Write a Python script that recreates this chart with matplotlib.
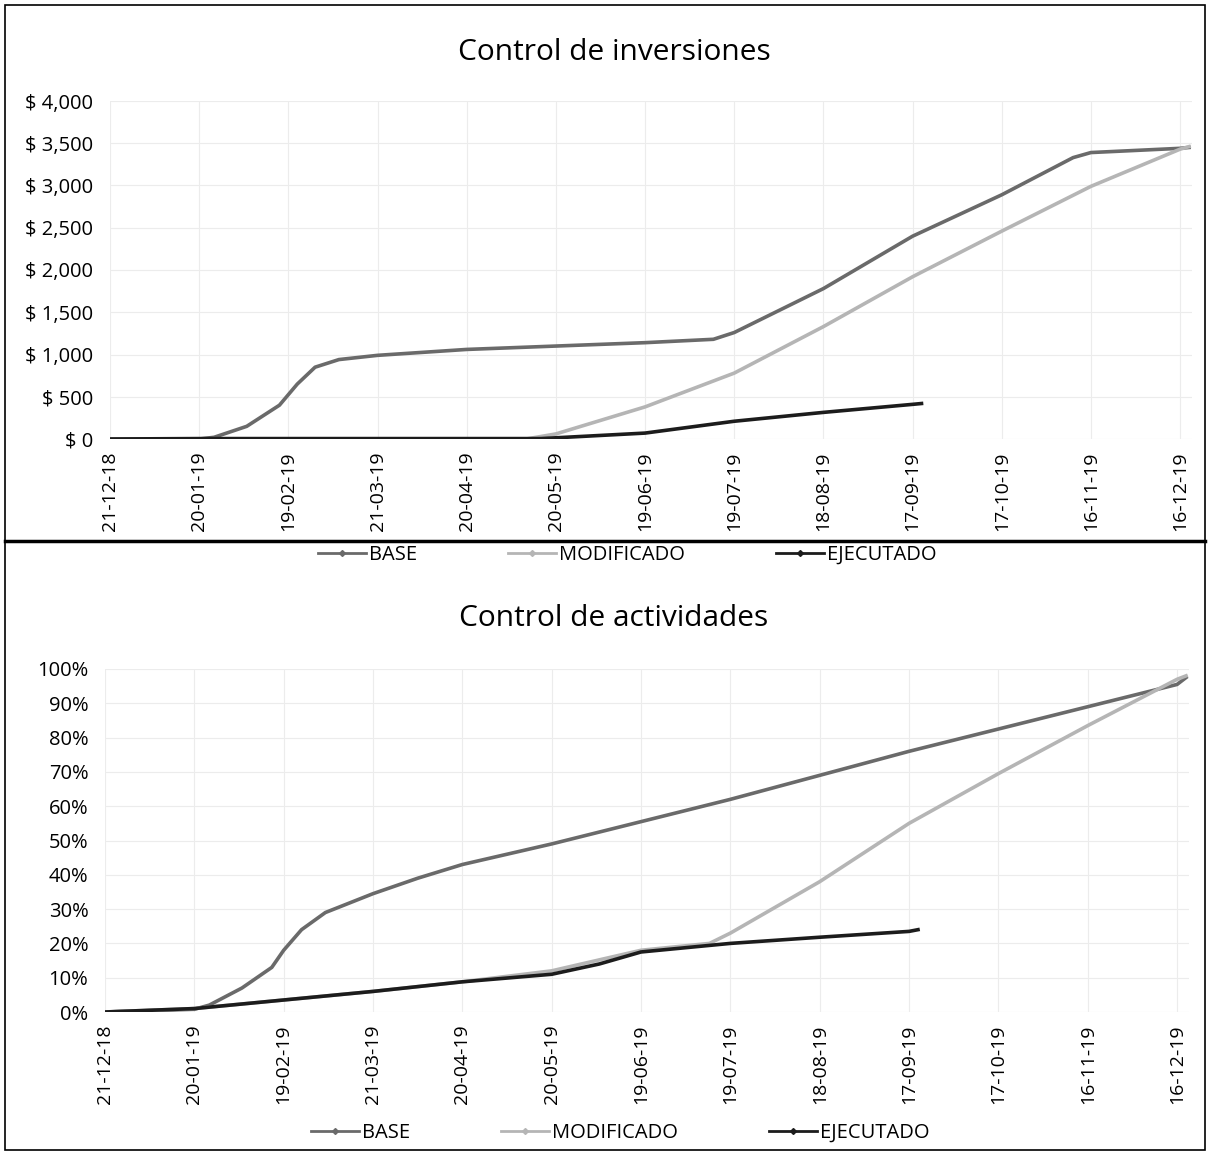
import matplotlib
matplotlib.use("Agg")
import matplotlib.pyplot as plt
import matplotlib.dates as mdates
from matplotlib.lines import Line2D
from matplotlib.patches import Rectangle
import pandas as pd

plt.rcParams['font.family'] = ['Open Sans', 'DejaVu Sans']

# ---- data ----
# Control de inversiones ($)
inv_base_dates = ["21-12-18", "20-01-19", "25-01-19", "05-02-19", "16-02-19", "22-02-19",
                  "28-02-19", "08-03-19", "21-03-19", "20-04-19", "20-05-19", "19-06-19",
                  "12-07-19", "19-07-19", "18-08-19", "17-09-19", "17-10-19", "10-11-19",
                  "16-11-19", "16-12-19", "19-12-19"]
inv_base = [0, 0, 20, 150, 400, 650, 850, 940, 990, 1060, 1100, 1140,
            1180, 1260, 1780, 2400, 2890, 3330, 3390, 3440, 3450]

inv_mod_dates = ["21-12-18", "10-05-19", "20-05-19", "19-06-19", "19-07-19", "18-08-19",
                 "17-09-19", "17-10-19", "16-11-19", "16-12-19", "19-12-19"]
inv_mod = [0, 0, 60, 380, 780, 1330, 1920, 2460, 2990, 3430, 3460]

inv_eje_dates = ["21-12-18", "20-01-19", "20-04-19", "15-05-19", "19-06-19", "19-07-19",
                 "18-08-19", "17-09-19", "20-09-19"]
inv_eje = [0, 5, 5, 5, 70, 210, 315, 410, 420]

# Control de actividades (%)
act_base_dates = ["21-12-18", "20-01-19", "25-01-19", "05-02-19", "15-02-19", "19-02-19",
                  "25-02-19", "05-03-19", "21-03-19", "05-04-19", "20-04-19", "20-05-19",
                  "19-06-19", "19-07-19", "18-08-19", "17-09-19", "17-10-19", "16-11-19",
                  "16-12-19", "19-12-19"]
act_base = [0, 0.8, 2, 7, 13, 18, 24, 29, 34.5, 39, 43, 49,
            55.5, 62, 69, 76, 82.5, 89, 95.5, 97.5]

act_mod_dates = ["21-12-18", "20-01-19", "19-02-19", "21-03-19", "20-04-19", "20-05-19",
                 "19-06-19", "12-07-19", "19-07-19", "18-08-19", "17-09-19", "17-10-19",
                 "16-11-19", "16-12-19", "19-12-19"]
act_mod = [0, 1, 3.5, 6, 8.8, 12, 18, 20, 23, 38, 55, 69.5, 83.5, 97, 98]

act_eje_dates = ["21-12-18", "20-01-19", "19-02-19", "21-03-19", "20-04-19", "20-05-19",
                 "05-06-19", "19-06-19", "19-07-19", "18-08-19", "17-09-19", "20-09-19"]
act_eje = [0, 1, 3.5, 6, 8.8, 11, 14, 17.5, 20, 21.8, 23.5, 24]

series_names = ["BASE", "MODIFICADO", "EJECUTADO"]
series_colors = ["#6a6a6a", "#b5b5b5", "#1c1c1c"]


def to_dates(lst):
    return pd.to_datetime(lst, format="%d-%m-%y")


start = pd.Timestamp("2018-12-21")
tick_dates = [start + pd.Timedelta(days=30 * i) for i in range(13)]

fig = plt.figure(figsize=(12.11, 11.54), dpi=100)
W, H = 1211, 1154


def frac(px_left, px_right, py_top, py_bottom):
    return [px_left / W, 1 - py_bottom / H, (px_right - px_left) / W, (py_bottom - py_top) / H]


ax1 = fig.add_axes(frac(110, 1192, 101, 439))
ax2 = fig.add_axes(frac(105, 1189, 669, 1012))


def style_axis(ax, title, title_y):
    ax.set_xlim(start, start + pd.Timedelta(days=364))
    ax.set_xticks(tick_dates)
    ax.xaxis.set_major_formatter(mdates.DateFormatter("%d-%m-%y"))
    plt.setp(ax.get_xticklabels(), rotation=90, fontsize=14)
    ax.tick_params(axis='x', length=0, pad=9)
    ax.tick_params(axis='y', length=0, pad=12, labelsize=14.5)
    ax.grid(True, color="#ececec", linewidth=0.8)
    for s in ax.spines.values():
        s.set_visible(False)
    ax.set_axisbelow(True)
    fig.text(0.507, 1 - title_y / H, title, ha="center", va="center", fontsize=21.5)


# top chart
for d, v, c in [(inv_base_dates, inv_base, series_colors[0]),
                (inv_mod_dates, inv_mod, series_colors[1]),
                (inv_eje_dates, inv_eje, series_colors[2])]:
    ax1.plot(to_dates(d), v, color=c, linewidth=2.6, solid_joinstyle="round")
ax1.set_ylim(0, 4000)
ax1.set_yticks(range(0, 4001, 500))
ax1.set_yticklabels(["$ {:,}".format(v) for v in range(0, 4001, 500)])
style_axis(ax1, "Control de inversiones", 53)

# bottom chart
for d, v, c in [(act_base_dates, act_base, series_colors[0]),
                (act_mod_dates, act_mod, series_colors[1]),
                (act_eje_dates, act_eje, series_colors[2])]:
    ax2.plot(to_dates(d), v, color=c, linewidth=2.6, solid_joinstyle="round")
ax2.set_ylim(0, 100)
ax2.set_yticks(range(0, 101, 10))
ax2.set_yticklabels(["{}%".format(v) for v in range(0, 101, 10)])
style_axis(ax2, "Control de actividades", 618)

# legends
handles = [Line2D([0], [0], color=c, linewidth=2, marker="D", markersize=3)
           for c in series_colors]
for xc, ypx in ((0.518, 555), (0.512, 1133)):
    fig.legend(handles, series_names, loc="center", bbox_to_anchor=(xc, 1 - ypx / H),
               ncol=3, frameon=False, fontsize=14.5, columnspacing=4.5, handlelength=2.4,
               handletextpad=0.15)

# chart borders
fig.patches.append(Rectangle((5 / W, 1 - 541 / H), 1200 / W, 536 / H, transform=fig.transFigure,
                             fill=False, edgecolor="black", linewidth=1.2))
fig.patches.append(Rectangle((5 / W, 1 - 1150 / H), 1200 / W, 609 / H, transform=fig.transFigure,
                             fill=False, edgecolor="black", linewidth=1.2))
fig.add_artist(Line2D([5 / W, 1205 / W], [1 - 541 / H, 1 - 541 / H], transform=fig.transFigure,
                      color="black", linewidth=2.5))

fig.savefig("out.png", dpi=100)
